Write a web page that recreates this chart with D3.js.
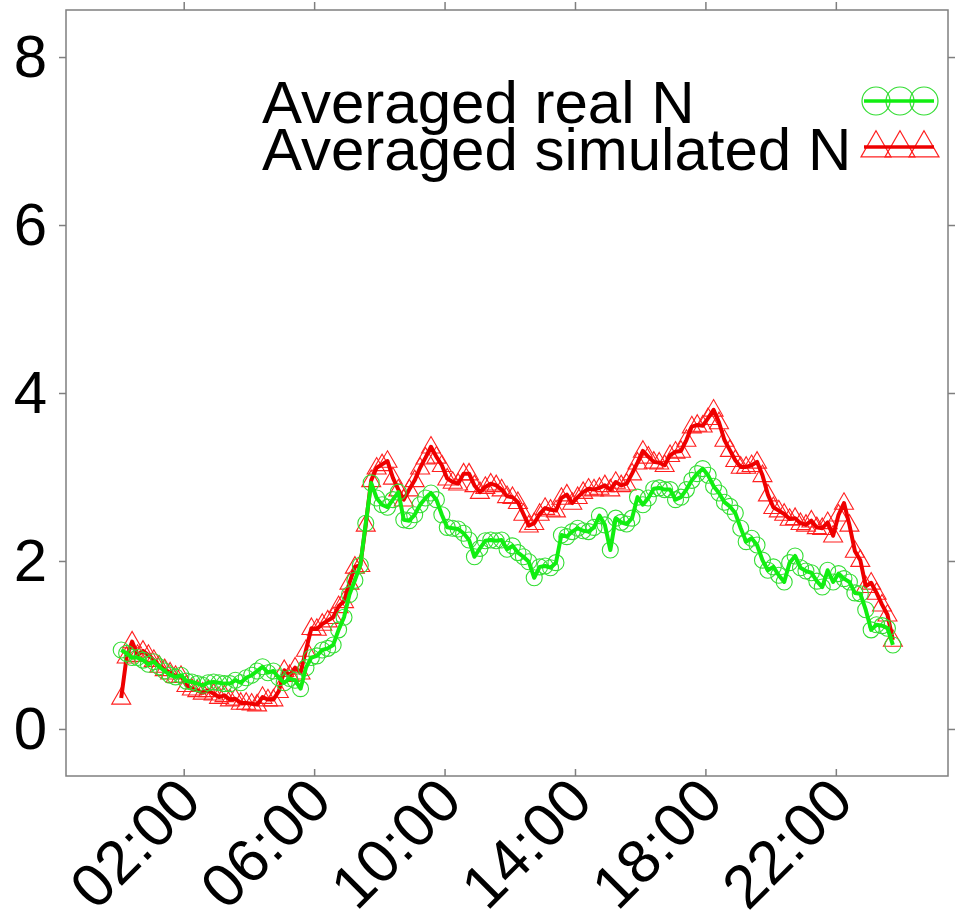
<!DOCTYPE html>
<html>
<head>
<meta charset="utf-8">
<script src="https://cdn.jsdelivr.net/npm/d3@7"></script>
<style>
  body { margin: 0; background: #fff; }
  svg { display: block; font-family: "Liberation Sans", Arial, Helvetica, sans-serif; }
</style>
</head>
<body>
<svg id="chart" width="961" height="912"></svg>
<script>
// time of each sample in hours (10 minute bins, centred at hh:05, hh:15 ...)
const nPoints = 143;
const times = d3.range(nPoints).map(i => (5 + 10 * i) / 60);

const realN = [
  0.94, 0.90, 0.85, 0.85, 0.82, 0.77, 0.80, 0.74, 0.69, 0.64,
  0.62, 0.64, 0.57, 0.56, 0.54, 0.52, 0.55, 0.56, 0.55, 0.54,
  0.54, 0.58, 0.55, 0.61, 0.64, 0.69, 0.74, 0.67, 0.69, 0.61,
  0.55, 0.60, 0.58, 0.48, 0.73, 0.85, 0.87, 0.94, 0.96, 1.00,
  1.18, 1.33, 1.60, 1.77, 1.95, 2.45, 2.93, 2.75, 2.67, 2.64,
  2.73, 2.82, 2.49, 2.48, 2.55, 2.67, 2.75, 2.81, 2.73, 2.55,
  2.40, 2.39, 2.38, 2.33, 2.25, 2.05, 2.15, 2.24, 2.25, 2.24,
  2.25, 2.14, 2.18, 2.10, 2.05, 1.99, 1.80, 1.93, 1.94, 1.92,
  1.98, 2.31, 2.29, 2.35, 2.39, 2.36, 2.35, 2.40, 2.54, 2.43,
  2.13, 2.51, 2.46, 2.44, 2.51, 2.76, 2.67, 2.75, 2.86, 2.87,
  2.85, 2.85, 2.73, 2.76, 2.85, 2.96, 3.04, 3.10, 3.02, 2.89,
  2.81, 2.70, 2.65, 2.57, 2.39, 2.23, 2.27, 2.19, 2.01, 1.89,
  1.93, 1.83, 1.75, 1.98, 2.06, 1.92, 1.88, 1.86, 1.76, 1.69,
  1.89, 1.75, 1.85, 1.79, 1.75, 1.62, 1.61, 1.42, 1.18, 1.24,
  1.23, 1.20, 1.00
];

const simN = [
  0.37, 0.86, 1.04, 0.88, 0.93, 0.88, 0.82, 0.75, 0.71, 0.67,
  0.63, 0.63, 0.52, 0.48, 0.46, 0.43, 0.46, 0.42, 0.38, 0.40,
  0.35, 0.36, 0.31, 0.31, 0.30, 0.29, 0.38, 0.35, 0.35, 0.45,
  0.70, 0.64, 0.73, 0.67, 0.94, 1.20, 1.19, 1.25, 1.29, 1.33,
  1.46, 1.52, 1.74, 1.93, 1.95, 2.43, 2.96, 3.11, 3.15, 3.19,
  2.99, 2.85, 2.73, 2.85, 2.96, 3.11, 3.23, 3.36, 3.24, 3.14,
  2.98, 2.94, 2.92, 3.04, 3.04, 2.90, 2.82, 2.88, 2.92, 2.90,
  2.85, 2.77, 2.76, 2.70, 2.56, 2.42, 2.45, 2.56, 2.63, 2.61,
  2.60, 2.75, 2.79, 2.69, 2.76, 2.82, 2.86, 2.85, 2.87, 2.90,
  2.85, 2.94, 2.90, 2.92, 3.04, 3.17, 3.31, 3.24, 3.18, 3.17,
  3.14, 3.26, 3.30, 3.31, 3.44, 3.60, 3.62, 3.61, 3.70, 3.80,
  3.65, 3.44, 3.32, 3.20, 3.12, 3.12, 3.14, 3.18, 3.02, 2.79,
  2.64, 2.60, 2.56, 2.50, 2.51, 2.45, 2.43, 2.48, 2.40, 2.39,
  2.46, 2.30, 2.55, 2.69, 2.43, 2.12, 2.01, 1.70, 1.74, 1.62,
  1.48, 1.36, 1.06
];

const xTicks = [2, 6, 10, 14, 18, 22];
const xTickLabels = ["02:00", "06:00", "10:00", "14:00", "18:00", "22:00"];
const yTicks = [0, 2, 4, 6, 8];
const legendLabels = ["Averaged real N", "Averaged simulated N"];

const svg = d3.select("#chart");
const pLeft = 66, pRight = 948, pTop = 10, pBottom = 776;

const x = d3.scaleLinear().domain([-1.61, 25.44]).range([pLeft, pRight]);
const y = d3.scaleLinear().domain([-0.56, 8.56]).range([pBottom, pTop]);

const axisColor = "#7f7f7f";
const fontSize = 60;
const xLabelSize = 61;

// frame
svg.append("rect")
  .attr("x", pLeft).attr("y", pTop)
  .attr("width", pRight - pLeft).attr("height", pBottom - pTop)
  .attr("fill", "none").attr("stroke", axisColor).attr("stroke-width", 1.5);

// left axis
const yAxis = svg.append("g")
  .attr("transform", `translate(${pLeft},0)`)
  .call(d3.axisLeft(y).tickValues(yTicks).tickSize(7).tickPadding(12).tickFormat(d3.format("d")));
yAxis.select(".domain").remove();
yAxis.selectAll("line").attr("stroke", axisColor).attr("stroke-width", 1.5);
yAxis.selectAll("text").attr("font-size", fontSize).attr("fill", "#000")
  .attr("font-family", "'Liberation Sans', Arial, sans-serif");

// right axis ticks
const yRight = svg.append("g")
  .attr("transform", `translate(${pRight},0)`)
  .call(d3.axisRight(y).tickValues(yTicks).tickSize(7).tickFormat(""));
yRight.select(".domain").remove();
yRight.selectAll("line").attr("stroke", axisColor).attr("stroke-width", 1.5);

// top axis ticks
const xTop = svg.append("g")
  .attr("transform", `translate(0,${pTop})`)
  .call(d3.axisTop(x).tickValues(xTicks).tickSize(8).tickFormat(""));
xTop.select(".domain").remove();
xTop.selectAll("line").attr("stroke", axisColor).attr("stroke-width", 1.5);

// bottom axis ticks (drawn inward) + rotated labels
const xBottom = svg.append("g")
  .attr("transform", `translate(0,${pBottom})`)
  .call(d3.axisBottom(x).tickValues(xTicks).tickSize(-7).tickFormat(""));
xBottom.select(".domain").remove();
xBottom.selectAll("line").attr("stroke", axisColor).attr("stroke-width", 1.5);

svg.append("g").selectAll("text")
  .data(xTicks)
  .enter()
  .append("text")
  .attr("transform", (d) => `translate(${x(d) + 20},${pBottom + 28}) rotate(-45)`)
  .attr("text-anchor", "end")
  .attr("font-size", xLabelSize)
  .attr("fill", "#000")
  .text((d, i) => xTickLabels[i]);

// series
const series = [
  { name: legendLabels[1], values: simN, line: "#ee0000", mark: "#ff2020", shape: "triangle" },
  { name: legendLabels[0], values: realN, line: "#11ee11", mark: "#33dd33", shape: "circle" }
];

const triPath = (cx, cy, s) => {
  const h = s * 0.87;
  return `M${cx},${cy - h * 0.62}L${cx + s / 2},${cy + h * 0.38}L${cx - s / 2},${cy + h * 0.38}Z`;
};

const line = d3.line().x((d) => x(d[0])).y((d) => y(d[1]));

series.forEach((s) => {
  const pts = times.map((t, i) => [t, s.values[i]]);
  const g = svg.append("g");
  if (s.shape === "circle") {
    g.selectAll("circle").data(pts).enter().append("circle")
      .attr("cx", (d) => x(d[0])).attr("cy", (d) => y(d[1])).attr("r", 8)
      .attr("fill", "none").attr("stroke", s.mark).attr("stroke-width", 1.1);
  } else {
    g.selectAll("path").data(pts).enter().append("path")
      .attr("d", (d) => triPath(x(d[0]), y(d[1]), 19))
      .attr("fill", "none").attr("stroke", s.mark).attr("stroke-width", 1.1);
  }
  svg.append("path").datum(pts)
    .attr("d", line)
    .attr("fill", "none").attr("stroke", s.line).attr("stroke-width", 4)
    .attr("stroke-linejoin", "round");
});

// legend
const legend = svg.append("g");
const legendRows = [
  { label: legendLabels[0], y: 123, sy: 101, line: "#11ee11", mark: "#33dd33", shape: "circle" },
  { label: legendLabels[1], y: 170, sy: 147, line: "#ee0000", mark: "#ff2020", shape: "triangle" }
];
legendRows.forEach((r) => {
  legend.append("text").attr("x", 262).attr("y", r.y)
    .attr("font-size", fontSize).attr("fill", "#000").text(r.label);
  [876, 900, 924].forEach((cx) => {
    if (r.shape === "circle") {
      legend.append("circle").attr("cx", cx).attr("cy", r.sy).attr("r", 14)
        .attr("fill", "none").attr("stroke", r.mark).attr("stroke-width", 1.2);
    } else {
      legend.append("path").attr("d", triPath(cx, r.sy, 30))
        .attr("fill", "none").attr("stroke", r.mark).attr("stroke-width", 1.2);
    }
  });
  legend.append("line").attr("x1", 864).attr("x2", 934).attr("y1", r.sy).attr("y2", r.sy)
    .attr("stroke", r.line).attr("stroke-width", 3.5);
});
</script>
</body>
</html>
